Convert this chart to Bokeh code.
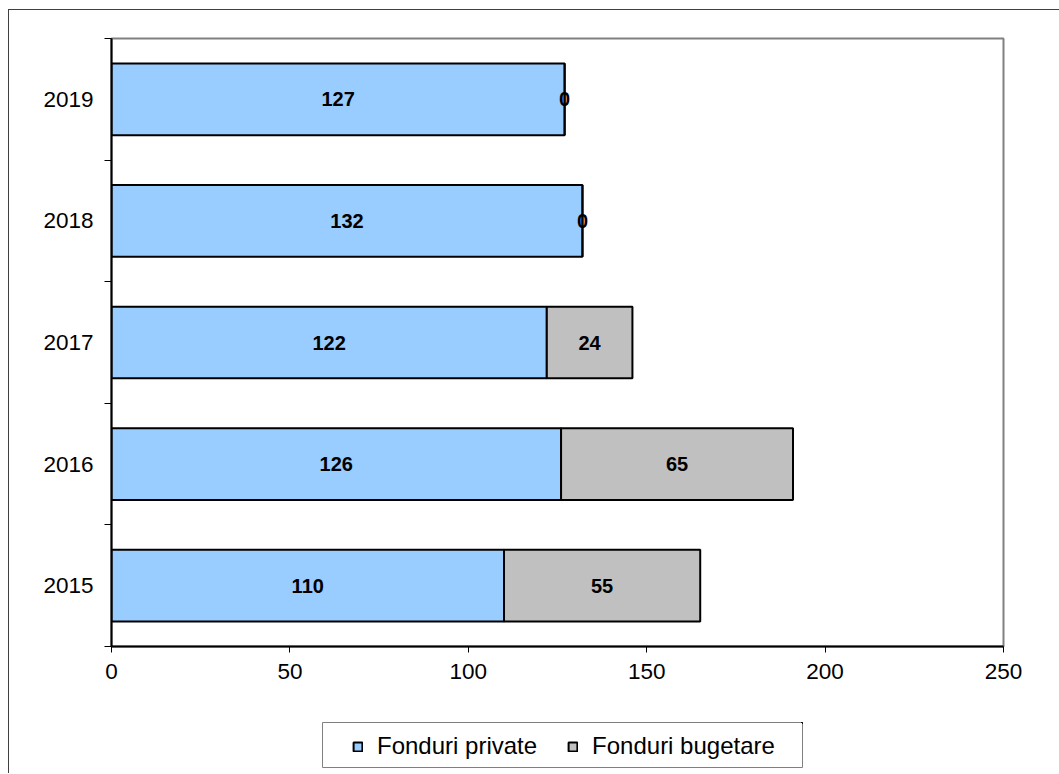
from bokeh.plotting import figure
from bokeh.layouts import column, row
from bokeh.models import ColumnDataSource, Range1d, FixedTicker, Legend, LegendItem, Spacer
from bokeh.core.properties import value
from bokeh.embed import file_html
from bokeh.resources import INLINE

# ---- data ----
years = ["2015", "2016", "2017", "2018", "2019"]
private = [110, 126, 122, 132, 127]
budget = [55, 65, 24, 0, 0]
series = ["Fonduri private", "Fonduri bugetare"]
colors = ["#99CCFF", "#C0C0C0"]
x_ticks = [0, 50, 100, 150, 200, 250]

FONT = "Liberation Sans"

pos = [i + 0.5 for i in range(len(years))]
src = ColumnDataSource(dict(y=pos, private=private, budget=budget))

p = figure(width=1050, height=700,
           x_range=Range1d(0, 250), y_range=Range1d(0, len(years)),
           output_backend="svg", toolbar_location=None,
           min_border_left=102, min_border_top=28,
           min_border_right=56, min_border_bottom=64)
p.background_fill_color = "white"
p.border_fill_color = "white"
p.outline_line_color = "#808080"
p.outline_line_width = 2
p.xgrid.visible = False
p.ygrid.visible = False

bar_kw = dict(y="y", height=0.59, source=src, fill_color=colors,
              line_color="black", line_width=2)
rs = p.hbar_stack(["private", "budget"], **bar_kw)

# value labels
lab_x = [v / 2 for v in private] + [a + b / 2 for a, b in zip(private, budget)]
lab_y = pos + pos
lab_t = [str(v) for v in private] + [str(v) for v in budget]
p.text(x=lab_x, y=lab_y, text=lab_t, text_font=value(FONT), text_font_style="bold",
       text_font_size="20px", text_align="center", text_baseline="middle", text_color="black")

# axes
p.xaxis.ticker = FixedTicker(ticks=x_ticks)
p.xaxis.major_label_text_font = FONT
p.xaxis.major_label_text_font_size = "22.5px"
p.xaxis.major_label_text_color = "black"
p.xaxis.major_tick_out = 6
p.xaxis.major_tick_in = 0
p.xaxis.major_tick_line_color = "black"
p.xaxis.minor_tick_line_color = None
p.xaxis.major_label_standoff = 11

p.yaxis.ticker = FixedTicker(ticks=pos, minor_ticks=list(range(len(years) + 1)))
p.yaxis.major_label_overrides = {pos[i]: years[i] for i in range(len(years))}
p.yaxis.major_label_text_font = FONT
p.yaxis.major_label_text_font_size = "22.5px"
p.yaxis.major_label_text_color = "black"
p.yaxis.major_tick_line_color = None
p.yaxis.major_tick_out = 0
p.yaxis.major_tick_in = 0
p.yaxis.minor_tick_out = 7
p.yaxis.minor_tick_in = 0
p.yaxis.minor_tick_line_color = "black"
p.yaxis.major_label_standoff = 11

for ax in (p.xaxis[0], p.yaxis[0]):
    ax.axis_line_color = "black"
    ax.axis_line_width = 2

# ---- legend panel (its frame is the legend box) ----
lg = figure(width=482, height=63, x_axis_type=None, y_axis_type=None,
            x_range=Range1d(-2, -1), y_range=Range1d(-2, -1),
            output_backend="svg", toolbar_location=None,
            min_border_left=1, min_border_right=1,
            min_border_top=12, min_border_bottom=6)
lg.background_fill_color = "white"
lg.border_fill_color = "white"
lg.outline_line_color = "#808080"
lg.outline_line_width = 1
lg.xgrid.visible = False
lg.ygrid.visible = False
lrs = lg.hbar_stack(["private", "budget"], **bar_kw)   # same series, outside view: only for legend swatches
legend = Legend(items=[LegendItem(label=s, renderers=[r]) for s, r in zip(series, lrs)],
                orientation="horizontal", location=(30, 7),
                border_line_color=None, background_fill_alpha=0,
                padding=0, margin=0, spacing=30,
                glyph_width=11, glyph_height=11, label_standoff=14,
                label_text_font=FONT, label_text_font_size="24px",
                label_height=24, label_text_color="black")
lg.add_layout(legend, "center")

layout = column(p, row(Spacer(width=312, height=63), lg), spacing=0, margin=(9, 0, 0, 8),
                styles={"border-top": "1px solid #404040",
                        "border-left": "1px solid #404040"})

open("out.html", "w").write(file_html(layout, INLINE))
